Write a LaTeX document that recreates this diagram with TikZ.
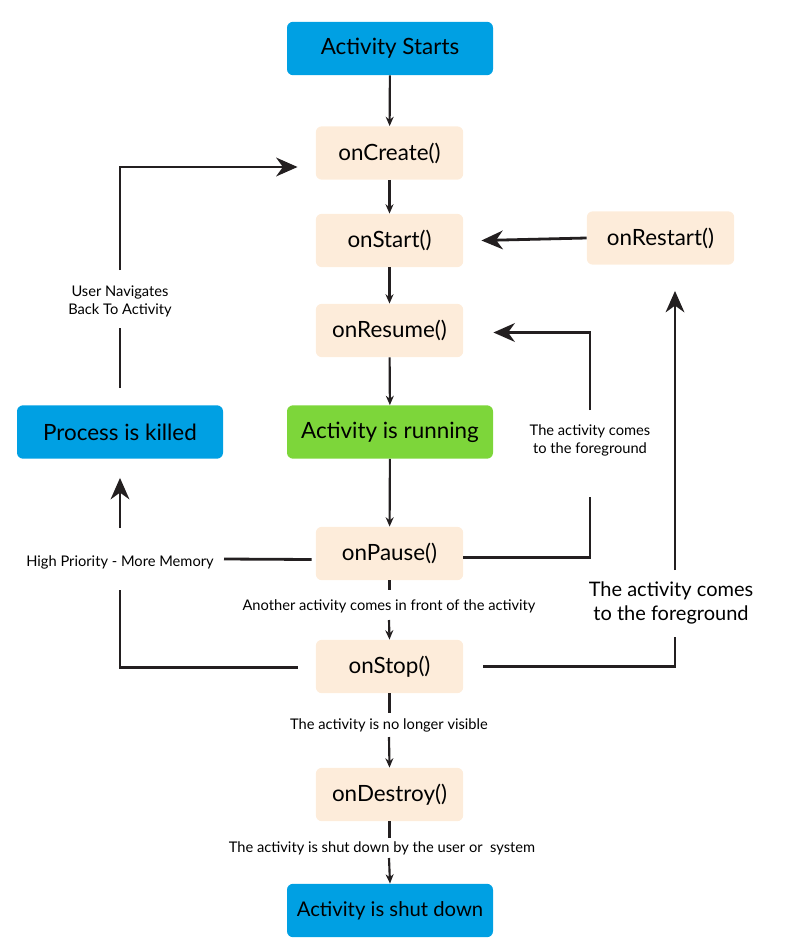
\documentclass[tikz,border=0pt]{standalone}
\usepackage{fontspec}
\setmainfont{Lato}
\usetikzlibrary{arrows.meta}
\definecolor{cblue}{RGB}{0,160,227}
\definecolor{cgreen}{RGB}{125,214,58}
\definecolor{cbeige}{RGB}{253,236,218}
\definecolor{cline}{RGB}{35,31,32}
\tikzset{
  base/.style={rounded corners=4.5pt, inner sep=0pt, text=black, font=\fontsize{16.8}{20}\selectfont},
  wide/.style={base, minimum width=154.5pt, minimum height=40pt},
  narrow/.style={base, fill=cbeige, minimum width=110.5pt, minimum height=40pt},
  lbl/.style={inner sep=1pt, align=center, text=black, font=\fontsize{11}{13.5}\selectfont},
  biglbl/.style={inner sep=1pt, align=center, text=black, font=\fontsize{15}{18}\selectfont},
  sarr/.style={draw=cline, line width=1.6pt, -{Stealth[length=7pt,width=6pt]}},
  sline/.style={draw=cline, line width=1.6pt},
  barr/.style={draw=cline, line width=2.1pt, -{Stealth[length=16pt,width=14pt,inset=5pt]}},
  bline/.style={draw=cline, line width=2.1pt}
}
\begin{document}
\begin{tikzpicture}[x=0.75pt,y=-0.75pt]
\useasboundingbox (0,0) rectangle (797,949);
% nodes
\node[wide, fill=cblue] (start) at (390,48.5) {Activity Starts};
\node[narrow] (create) at (389.5,153) {onCreate()};
\node[narrow] (ostart) at (389.5,240.5) {onStart()};
\node[narrow] (resume) at (389.5,330.5) {onResume()};
\node[wide, fill=cgreen] (run) at (390,432) {Activity is running};
\node[narrow] (pause) at (389.5,553.5) {onPause()};
\node[narrow] (stop) at (389.5,666.5) {onStop()};
\node[narrow] (destroy) at (389.5,794.5) {onDestroy()};
\node[wide, fill=cblue, font=\fontsize{15.2}{18}\selectfont] (down) at (390,910.5) {Activity is shut down};
\node[wide, fill=cblue] (kill) at (120,432) {Process is killed};
\node[narrow] (restart) at (660.5,238) {onRestart()};
% labels
\node[lbl] (l1) at (389,606) {Another activity comes in front of the activity};
\node[lbl] (l2) at (389,725) {The activity is no longer visible};
\node[lbl] (l3) at (382,848) {The activity is shut down by the user or~~system};
\node[lbl] (hp) at (120,562) {High Priority - More Memory};
\node[lbl] (un) at (120,301) {User Navigates\\Back To Activity};
\node[lbl] (fg1) at (590,440) {The activity comes\\to the foreground};
\node[biglbl] (fg2) at (671,603) {The activity comes\\to the foreground};
% main column
\draw[sarr] (start) -- (create);
\draw[sarr] (create) -- (ostart);
\draw[sarr] (ostart) -- (resume);
\draw[sarr] (resume) -- (run);
\draw[sarr] (run) -- (pause);
\draw[sline] (pause.south) -- ([shift={(0,10)}]pause.south);
\draw[sarr] ([shift={(0,14)}]l1.center) -- (stop.north);
\draw[sline] (stop.south) -- ([shift={(0,20)}]stop.south);
\draw[sarr] ([shift={(0,12)}]l2.center) -- (destroy.north);
\draw[sline] (destroy.south) -- ([shift={(0,17)}]destroy.south);
\draw[sarr] ([shift={(7,10)}]l3.center) -- (down.north);
% left side
\draw[bline] ([shift={(-4,6)}]pause.west) -- ([shift={(104,-3)}]hp.center);
\draw[bline] ([shift={(-18,1)}]stop.west) -| ([shift={(0,28)}]hp.center);
\draw[barr] ([shift={(0,-34)}]hp.center) -- ([shift={(0,19)}]kill.south);
\draw[bline] ([shift={(0,-17)}]kill.north) -- ([shift={(0,27)}]un.center);
\draw[barr] ([shift={(0,-31)}]un.center) |- ([shift={(-18,14)}]create.west);
% right side
\draw[barr] (restart.west) -- ([shift={(18,0)}]ostart.east);
\draw[bline] ([shift={(0,4)}]pause.east) -| ([shift={(0,57)}]fg1.center);
\draw[barr] ([shift={(0,-30)}]fg1.center) |- ([shift={(30,2)}]resume.east);
\draw[bline] ([shift={(20,0)}]stop.east) -| ([shift={(4,34)}]fg2.center);
\draw[barr] ([shift={(4,-33)}]fg2.center) -- ([shift={(14.5,26)}]restart.south);
\end{tikzpicture}
\end{document}
